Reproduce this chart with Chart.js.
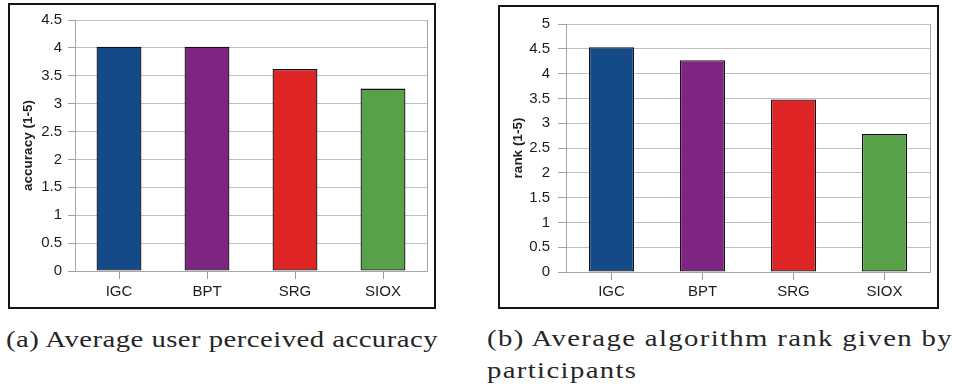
<!DOCTYPE html>
<html>
<head>
<meta charset="utf-8">
<script src="https://cdn.jsdelivr.net/npm/chart.js@4/dist/chart.umd.min.js"></script>
<style>
  html, body { margin: 0; padding: 0; background: #fff; }
  body { width: 955px; height: 392px; position: relative; overflow: hidden; }
  .frame { position: absolute; box-sizing: border-box; border: 2px solid #141414; background: #fff; }
  .frame canvas { position: absolute; left: 0; top: 0; }
  .cap { position: absolute; font-family: "Liberation Serif", serif; font-size: 23px; line-height: 23px;
         color: #262626; white-space: nowrap; transform-origin: 0 50%; }
</style>
</head>
<body>
<div class="frame" id="frameA" style="left:8px; top:3px; width:428px; height:306px;">
  <canvas id="chartA" width="424" height="302"></canvas>
</div>
<div class="frame" id="frameB" style="left:498px; top:5px; width:441px; height:304px;">
  <canvas id="chartB" width="437" height="300"></canvas>
</div>

<div class="cap" id="capA" style="left:6px; top:328px;">(a) Average user perceived accuracy</div>
<div class="cap" id="capB1" style="left:487px; top:327px;">(b) Average algorithm rank given by</div>
<div class="cap" id="capB2" style="left:487px; top:359px;">participants</div>

<script>
// Algorithms compared in the user study
const categories = ['IGC', 'BPT', 'SRG', 'SIOX'];

// (a) mean perceived accuracy, scale 1-5
const accuracyValues = [4.02, 4.02, 3.62, 3.27];

// (b) mean rank given by participants, scale 1-5
const rankValues = [4.53, 4.27, 3.48, 2.78];

// one fill per algorithm
const barColors = ['#154a89', '#7e2581', '#df2426', '#58a148'];

const TICK_FONT = { family: 'Liberation Sans', size: 15 };
const TITLE_FONT = { family: 'Liberation Sans', size: 13.5, weight: 'bold' };
const GRID = '#c0c0c0';
const AXIS = '#a6a6a6';
const TEXT = '#1c1c1c';

// closes the plot box on its right-hand side
const rightEdge = {
  id: 'rightEdge',
  afterDatasetsDraw(chart) {
    const { ctx, chartArea: a } = chart;
    ctx.save();
    ctx.strokeStyle = AXIS;
    ctx.lineWidth = 1;
    ctx.beginPath();
    ctx.moveTo(Math.round(a.right) + 0.5, a.top);
    ctx.lineTo(Math.round(a.right) + 0.5, a.bottom);
    ctx.stroke();
    ctx.restore();
  }
};

function makeBarChart(id, values, yMax, yTitle, cfg) {
  return new Chart(document.getElementById(id), {
    type: 'bar',
    data: {
      labels: categories,
      datasets: [{
        data: values,
        backgroundColor: barColors,
        borderColor: '#111',
        borderWidth: 1.3,
        borderSkipped: false,
        categoryPercentage: 1,
        barPercentage: cfg.barPct
      }]
    },
    options: {
      responsive: false,
      animation: false,
      devicePixelRatio: 1,
      layout: { padding: { top: cfg.top, right: cfg.right, bottom: 0, left: 0 } },
      plugins: { legend: { display: false }, tooltip: { enabled: false } },
      scales: {
        x: {
          grid: { display: true, drawOnChartArea: false, offset: false, tickLength: 8, color: '#9a9a9a' },
          border: { display: true, color: AXIS },
          ticks: { color: TEXT, font: TICK_FONT, padding: cfg.xPad, maxRotation: 0 },
          afterFit(scale) { scale.height = cfg.xHeight; }
        },
        y: {
          min: 0,
          max: yMax,
          ticks: { stepSize: 0.5, color: TEXT, font: TICK_FONT, padding: cfg.yPad,
                   callback: (v) => String(v) },
          grid: { color: GRID, tickLength: cfg.yTick, tickColor: '#a0a0a0' },
          border: { display: true, color: AXIS },
          title: { display: true, text: yTitle, color: '#222', font: TITLE_FONT,
                   padding: { top: cfg.titlePad, bottom: 0 } },
          afterFit(scale) { scale.width = cfg.yWidth; }
        }
      }
    },
    plugins: [rightEdge]
  });
}

function drawCharts() {
  makeBarChart('chartA', accuracyValues, 4.5, 'accuracy (1-5)', {
    barPct: 0.51, top: 12, right: 7, xHeight: 36, xPad: 4,
    yWidth: 65, yPad: 6, yTick: 7, titlePad: 10
  });
  makeBarChart('chartB', rankValues, 5, 'rank (1-5)', {
    barPct: 0.495, top: 14, right: 7, xHeight: 35, xPad: 3,
    yWidth: 66, yPad: 8, yTick: 8, titlePad: 10
  });
}

// widen a caption line to its column: mostly glyph stretch, a little letter spacing
const CAP_STRETCH = 1.25;
function fitLine(el, targetWidth) {
  const w = el.getBoundingClientRect().width;
  const n = el.textContent.length;
  const ls = (targetWidth / CAP_STRETCH - w) / n;
  el.style.letterSpacing = ls.toFixed(3) + 'px';
  el.style.transform = 'scaleX(' + CAP_STRETCH + ')';
  return ls;
}

document.fonts.ready.then(() => {
  drawCharts();
  fitLine(document.getElementById('capA'), 432);
  const ls = fitLine(document.getElementById('capB1'), 466);
  const b2 = document.getElementById('capB2');
  b2.style.letterSpacing = ls.toFixed(3) + 'px';
  b2.style.transform = 'scaleX(' + CAP_STRETCH + ')';
});
</script>
</body>
</html>
